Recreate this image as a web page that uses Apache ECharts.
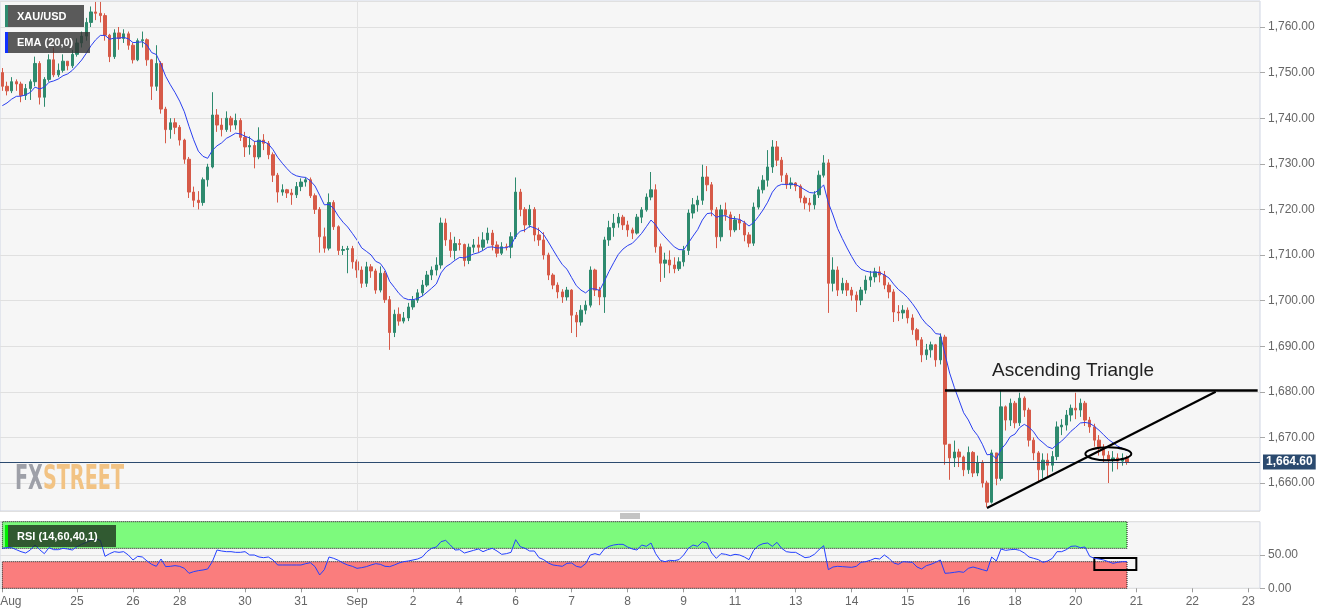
<!DOCTYPE html>
<html><head><meta charset="utf-8">
<script src="https://cdn.jsdelivr.net/npm/echarts/dist/echarts.min.js"></script>
<style>html,body{margin:0;padding:0;background:#fff}#c{width:1331px;height:615px}</style>
</head><body><div id="c"></div>
<script>
// ---- data (2-hour candles, XAU/USD) ----
const firstOpen = 1750;
const closes = [1747,1746,1748,1747.5,1745,1746.5,1748,1752,1744.6,1748.5,
1752.8,1749.5,1750.5,1752.5,1751.5,1754,1756.5,1758,1761,1763.3,
1763,1762.5,1758.2,1753.5,1758.7,1757.5,1758.5,1756,1752.8,1757,
1757.2,1752.8,1747,1752,1742,1737.5,1739,1738,1735.2,1731,
1723.8,1722,1721.5,1726.5,1729.3,1740.7,1738.5,1737.5,1740,1738.5,
1739.5,1735.8,1733.7,1734,1731.5,1735.2,1734.5,1732,1727.5,1723.8,
1724.3,1723.6,1723.2,1725,1726,1726.5,1723,1720,1714,1711.5,
1721.5,1716.2,1711,1711.2,1711.4,1708.5,1706.7,1703.8,1707.4,1706.5,
1702.3,1706,1700.2,1693,1697,1695.5,1696.2,1698.6,1700.1,1701.7,
1703.4,1705.6,1706.7,1707.8,1717,1713.3,1711,1712.5,1712.3,1708.8,
1711.7,1712.2,1711.7,1713.3,1714.8,1712.2,1710.4,1711.8,1711.7,1714,
1723.8,1720,1716.6,1720,1714.4,1713.3,1710,1705.6,1703.4,1701.9,
1700.8,1702.3,1696.8,1695.3,1697.9,1699,1706.7,1702.3,1700.8,1713.3,
1716,1717,1718.3,1716.6,1715.5,1714.8,1718.3,1719.9,1722.7,1724.3,
1711.8,1708.2,1708.9,1707.8,1707,1708.5,1711,1719.2,1721,1722,
1727.1,1725.4,1719.9,1714,1719.9,1718.8,1715.5,1717.7,1717,1714.4,
1712.6,1720.5,1724.3,1726.4,1729.3,1733.7,1730.8,1727.5,1725.4,1725.8,
1725.1,1722.5,1721.4,1721,1723.2,1727.5,1730.2,1703.8,1706.7,1702.3,
1703.8,1702.3,1701.2,1700.1,1702.3,1704.5,1705.2,1706.3,1705.6,1703.4,
1701.9,1697.5,1697.3,1697.9,1696.2,1693.6,1691.4,1688.1,1689.2,1690.3,
1687,1692,1668.5,1665.5,1666.8,1665.7,1662.9,1666.7,1662.2,1664.5,
1660,1655.8,1666.6,1661,1676.7,1673.8,1677.5,1673.2,1678.6,1676,
1669.4,1666.6,1662.9,1665,1663.9,1665.8,1672.3,1672.7,1674.9,1676.4,
1676,1677.5,1673.8,1672.3,1669.4,1667.7,1666.1,1665,1665.5,1664.8,
1665.4,1664.6];
const highs = [1751,1748,1749,1748.5,1748,1747.5,1748.5,1753.5,1752.5,1749,
1754,1755.5,1752,1754,1752.5,1755,1757.5,1759,1762,1764.5,
1765.5,1765.5,1763,1758.5,1759.5,1760,1759.5,1759,1756.5,1757.5,
1759,1757.5,1753,1756,1752.5,1742.5,1740,1740,1738.5,1735.5,
1731.5,1725,1724,1727,1730,1745.7,1742,1740,1741.5,1740.5,
1741,1740,1737,1736,1735,1738,1736.5,1735,1732.5,1728,
1725.5,1724.5,1724.5,1726,1726.8,1727,1727,1723.5,1720.5,1716,
1723.5,1722,1716.5,1712,1712,1712,1709,1707.5,1708.5,1708,
1707,1707.5,1706.5,1701,1698,1698.5,1697.5,1699.5,1701,1702.5,
1704.5,1706.5,1707.5,1709.5,1718.2,1718,1715,1714,1713.5,1712.5,
1712.5,1713.5,1714,1715,1716,1715.5,1713,1712.8,1712.5,1715,
1727,1724.5,1720.5,1721,1720.5,1716,1715,1710.5,1706,1704,
1702.5,1703,1702.5,1697.5,1699,1700,1707.5,1707,1703,1714,
1717.5,1719,1719.2,1718.8,1717.5,1716,1719,1720.5,1723.5,1728.2,
1725.5,1712.5,1710.5,1711,1709.5,1709.5,1712,1720,1722.5,1723,
1729.8,1729.5,1726,1720.5,1721,1721.5,1719.5,1718.5,1719,1717.5,
1715,1721.5,1725,1727.5,1733,1735.2,1735,1731.5,1728,1727,
1726,1725.5,1723,1722.5,1724,1728.5,1731.9,1731,1709.5,1707.5,
1705,1704.5,1703,1702,1703,1705.5,1706.5,1707.2,1707.5,1706.5,
1704,1702.5,1699,1699,1698.5,1697,1694,1692,1690.5,1691,
1690.5,1692.8,1692.5,1668,1669.3,1667.5,1666,1668,1667,1666,
1665,1660.5,1667.3,1666.5,1680.4,1677,1678.5,1678,1679.8,1679,
1676.5,1670,1667,1666.5,1666.5,1667,1673.5,1674,1676,1677.2,
1679.8,1678.5,1678,1674.5,1673,1670.5,1668.5,1667,1667,1666.5,
1666.5,1666];
const lows = [1746,1745,1745.5,1746,1743.5,1744,1744,1747,1743,1742.5,
1748,1749,1749,1750,1750.5,1751,1753.5,1755.5,1757,1760,
1761.5,1761,1757,1752.3,1753,1755,1756.5,1755,1752,1752.5,
1755.5,1751.5,1744,1746,1741,1734.5,1735.5,1736.5,1734,1730,
1722.5,1720.5,1720,1720.8,1725,1729,1737,1736,1737,1737,
1737.5,1735,1731.5,1732,1729,1731,1733,1731,1726,1721.5,
1723,1722.5,1721,1722.5,1724,1725,1722.5,1719,1710.5,1710.5,
1711,1715.5,1710,1710,1706,1707,1705,1702.8,1703,1705,
1701.5,1701.8,1699.5,1689.2,1692,1694.5,1695,1695.5,1698,1699.5,
1701,1703,1704.5,1705.5,1707,1712,1709.5,1709,1711,1707.5,
1708,1710.5,1710.5,1711,1712.5,1711,1709.5,1710,1711,1709.3,
1713.5,1718.5,1715,1716,1713,1712,1709,1704.5,1702.5,1700.5,
1699.5,1700,1692.9,1692,1694.5,1697,1698.5,1701,1699,1697.3,
1712,1714,1716,1715.5,1714,1713.5,1714.5,1717,1719.5,1722,
1710.5,1704.1,1705,1706,1706,1706.5,1707.5,1710,1718,1719.5,
1721,1724,1718.5,1711.5,1713,1717.5,1714,1715,1715.5,1713,
1711.7,1712,1720,1723.5,1725,1728,1729.5,1726,1724.5,1724.5,
1724,1721.5,1720,1719.5,1720,1722.5,1727,1697.3,1702,1701,
1701.5,1701,1700,1697.5,1699,1701.5,1703,1704,1704,1702.5,
1700.5,1695.3,1695.5,1696,1695,1692.5,1690,1686.5,1687,1687.5,
1685.5,1686,1664,1660.7,1663.5,1663.5,1661.5,1662,1661.3,1661.5,
1659,1654.7,1655.5,1659.5,1660.5,1671.5,1672.5,1672,1672.5,1674.5,
1668,1665,1660.2,1661,1661.5,1662.5,1665,1670.5,1671.5,1673.5,
1674,1674.5,1672.5,1671,1668,1666,1664.5,1660,1662.5,1663,
1663.8,1664];
// RSI (14,60,40,1), one value per candle
const rsiValues = [60,61,61,58,55,53,57.5,65,58,52,
61,58,58,60,59,57.5,62.5,66,69,72,
74,72,48,52,55,54,55,50,42.5,48,
47,41,36,33,44,32.5,33,34,33,30,
22.5,25,26.5,27.5,29,40,57.5,56,55,55,
54,54,55,50,50,47,46,47,42.5,35,
35,35,35,35,35,37,38.5,32.5,20,28,
47,45,42,38,35,33,30,31,32.5,35,
37,36,33,32.5,35,38,40,41,42.5,44,
47,55,60,62,70,72,65,57.5,58,53,
55,57,59,55,58,60,56,51,52,54,
73,62.5,60,56,56,46,43,38,35,34,
33,37.5,38,33,31.5,37,50,52,50,59,
63,65,66,66,62,59,57.5,65,63,68,
52,42,40,42,41.5,43,50,60,65,63,
70,68,53,45,52,51,49,51,50,47,
43,57,64,67,68,63,69,60,55,54,
54,50,46,47,51,58,64,28,32,33,
32.5,32,31.5,33,39,40,42,45,44,50,
45,38,36,40,39.5,39,32,29,34,36,
39,42.5,22.5,23,24,25,24,30,32,30,
28,26,47,41,59,57,58,58.5,57,53,
47,45,43,39,41,45,55,55,58,63,
63.5,61,62,48,45,44,42.5,40,37.5,39,
40,40];
const dayTicks = [[0,'Aug'],[16,'25'],[28,'26'],[38,'28'],[52,'30'],[64,'31'],[76,'Sep'],[88,'2'],
[98,'4'],[110,'6'],[122,'7'],[134,'8'],[146,'9'],[157,'11'],[170,'13'],[182,'14'],[194,'15'],
[206,'16'],[217,'18'],[230,'20'],[243,'21'],[255,'22'],[267,'23']];
const totalSlots = 270;
const lastPrice = 1664.60;
const emaPeriod = 10, emaSeed = 1741.8;          // EMA(20) hourly ~ EMA(10) on 2h bars
const rsiUpper = 60, rsiLower = 40;
const resistance = [[202, 1680.4], [269, 1680.4]];
const supportLine = [[211, 1654.5], [260, 1680]];
const ellipseCenter = [237, 1666.4];
const rsiBox = [[234, 45.5], [243, 27.3]];
const monthLineSlot = 76;

// ---- build ----
const slots = []; for (let i = 0; i < totalSlots; i++) slots.push(String(i));
const tickMap = {}; dayTicks.forEach(d => tickMap[d[0]] = d[1]);
const ohlc = closes.map((c, i) => {
  const o = i === 0 ? firstOpen : closes[i - 1];
  return [o, c, Math.min(lows[i], o, c), Math.max(highs[i], o, c)];
});
const ema = []; { let e = emaSeed; const a = 2 / (emaPeriod + 1);
  closes.forEach(c => { e = a * c + (1 - a) * e; ema.push(+e.toFixed(2)); }); }
const fmt2 = v => Number(v).toLocaleString('en-US', {minimumFractionDigits: 2, maximumFractionDigits: 2});

const GREEN = '#2e8a6e', RED = '#d65a48', FONT = '"Liberation Sans", Arial, sans-serif';
const chart = echarts.init(document.getElementById('c'), null, {renderer: 'canvas'});
const tickFn = (idx) => tickMap[idx] !== undefined;

const option = {
  animation: false,
  textStyle: {fontFamily: FONT},
  grid: [
    {left: 0, right: 71, top: 1, height: 510, show: true, backgroundColor: '#f6f6f6', borderColor: '#cfd5e3', borderWidth: 1, containLabel: false, outerBoundsMode: 'none'},
    {left: 0, right: 71, top: 521.7, height: 66.6, show: true, backgroundColor: '#f6f6f6', borderColor: '#cfd5e3', borderWidth: 1, containLabel: false, outerBoundsMode: 'none'}
  ],
  xAxis: [
    {type: 'category', gridIndex: 0, data: slots, boundaryGap: true,
      axisLine: {show: false}, axisTick: {show: false}, axisLabel: {show: false}, splitLine: {show: false}},
    {type: 'category', gridIndex: 1, data: slots, boundaryGap: true,
      axisLine: {show: false},
      axisTick: {show: true, alignWithLabel: true, interval: tickFn, length: 4, lineStyle: {color: '#9a9a9a'}},
      axisLabel: {show: true, interval: tickFn,
        formatter: (v, i) => i === 0 ? '{f|' + tickMap[0] + '}' : (tickMap[i] || ''),
        rich: {f: {padding: [0, 0, 0, 17], color: '#666', fontSize: 12, fontFamily: FONT}},
        color: '#666', fontSize: 12, margin: 7, fontFamily: FONT},
      splitLine: {show: false}}
  ],
  yAxis: [
    {type: 'value', gridIndex: 0, position: 'right', min: 1653.86, max: 1765.7, splitNumber: 11, minInterval: 10, maxInterval: 10,
      axisLine: {show: false}, axisTick: {show: true, length: 5, lineStyle: {color: '#a8a8a8'}},
      axisLabel: {formatter: fmt2, color: '#666', fontSize: 12, margin: 8, padding: [3, 0, 0, 0], showMinLabel: false, showMaxLabel: false, fontFamily: FONT},
      splitLine: {show: true, lineStyle: {color: '#e0e0e0', width: 1}}},
    {type: 'value', gridIndex: 1, position: 'right', min: 0, max: 100, interval: 50,
      axisLine: {show: false}, axisTick: {show: true, length: 5, lineStyle: {color: '#a8a8a8'}},
      axisLabel: {formatter: fmt2, color: '#666', fontSize: 12, margin: 8, padding: [3, 0, 0, 0], showMaxLabel: false, fontFamily: FONT},
      splitLine: {show: true, lineStyle: {color: '#e0e0e0', width: 1}}}
  ],
  series: [
    {type: 'candlestick', name: 'XAU/USD', xAxisIndex: 0, yAxisIndex: 0, data: ohlc, barWidth: 3,
      itemStyle: {color: GREEN, color0: RED, borderColor: GREEN, borderColor0: RED, borderColorDoji: '#222', borderWidth: 1},
      markLine: {silent: true, symbol: ['none', 'none'], animation: false,
        data: [
          {xAxis: monthLineSlot, lineStyle: {color: '#e2e2e2', width: 1, type: 'solid'}, label: {show: false}},
          {yAxis: lastPrice, lineStyle: {color: '#2b4a6f', width: 1, type: 'solid'},
            label: {show: true, position: 'end', distance: 3, formatter: fmt2(lastPrice), color: '#fff', fontWeight: 'bold',
              fontSize: 12, backgroundColor: '#2b4a6f', padding: [2, 3, 1, 3], fontFamily: FONT}},
          [{coord: resistance[0], lineStyle: {color: '#000', width: 2.5, type: 'solid'}, label: {show: false}}, {coord: resistance[1]}],
          [{coord: supportLine[0], lineStyle: {color: '#000', width: 2.2, type: 'solid'}, label: {show: false}}, {coord: supportLine[1]}]
        ]}},
    {type: 'line', name: 'EMA (20,0)', xAxisIndex: 0, yAxisIndex: 0, data: ema, symbol: 'none', z: 3,
      lineStyle: {color: '#2a3ff0', width: 1}},
    {type: 'line', name: 'RSI', xAxisIndex: 1, yAxisIndex: 1, data: rsiValues, symbol: 'none', z: 3,
      lineStyle: {color: '#2340ff', width: 1},
      markArea: {silent: true, data: [
        [{xAxis: 0, yAxis: rsiUpper, itemStyle: {color: '#7dfa7d', borderColor: '#111', borderWidth: 1, borderType: 'dotted'}}, {xAxis: closes.length - 1, yAxis: 100}],
        [{xAxis: 0, yAxis: 0, itemStyle: {color: '#fa7d7d', borderColor: '#111', borderWidth: 1, borderType: 'dotted'}}, {xAxis: closes.length - 1, yAxis: rsiLower}],
        [{xAxis: rsiBox[0][0], yAxis: rsiBox[0][1], itemStyle: {color: 'rgba(0,0,0,0)', borderColor: '#000', borderWidth: 2}}, {xAxis: rsiBox[1][0], yAxis: rsiBox[1][1]}]
      ]}}
  ]
};
chart.setOption(option);

// ---- annotations / labels ----
const cv = document.createElement('canvas').getContext('2d');
const wmFont = 'bold 34px "DejaVu Sans Condensed"';
cv.font = wmFont;
const wmScale = 109 / cv.measureText('FXSTREET').width;
const ec = chart.convertToPixel({xAxisIndex: 0, yAxisIndex: 0}, ellipseCenter);
const Z = 100;
function tag(x, y, w, h, fill, strip, text) {
  return {type: 'group', z: Z, children: [
    {type: 'rect', z: Z, shape: {x: x, y: y, width: w, height: h}, style: {fill: fill}},
    {type: 'rect', z: Z + 1, shape: {x: x, y: y, width: 3, height: h}, style: {fill: strip}},
    {type: 'text', z: Z + 1, x: x + 12, y: y + h / 2 + 0.5, style: {text: text, fill: '#fff', font: 'bold 11px ' + FONT, verticalAlign: 'middle'}}
  ]};
}
chart.setOption({graphic: [
  tag(5, 5, 79, 22, 'rgba(51,51,51,0.8)', GREEN, 'XAU/USD'),
  tag(5, 32, 85, 21, 'rgba(51,51,51,0.8)', '#1030ff', 'EMA (20,0)'),
  tag(5, 525, 111, 22, 'rgba(30,50,30,0.8)', '#00ee00', 'RSI (14,60,40,1)'),
  {type: 'text', z: Z, x: 15, y: 480, scaleX: wmScale, scaleY: 1,
    style: {text: '{a|FX}{b|STREET}', verticalAlign: 'middle',
      rich: {a: {fill: '#9ea0a8', font: wmFont}, b: {fill: '#f2c384', font: wmFont}}}},
  {type: 'text', z: Z, x: 992, y: 371, style: {text: 'Ascending Triangle', fill: '#222', font: '19px ' + FONT, verticalAlign: 'middle'}},
  {type: 'ellipse', z: Z, shape: {cx: ec[0], cy: ec[1], rx: 23, ry: 6.5}, style: {fill: 'none', stroke: '#000', lineWidth: 2}},
  {type: 'group', z: Z, children: [0, 2, 4].map(d => ({type: 'line', z: Z, shape: {x1: 620, y1: 514 + d, x2: 640, y2: 514 + d}, style: {stroke: '#888', lineWidth: 1}}))}
]});
</script></body></html>
